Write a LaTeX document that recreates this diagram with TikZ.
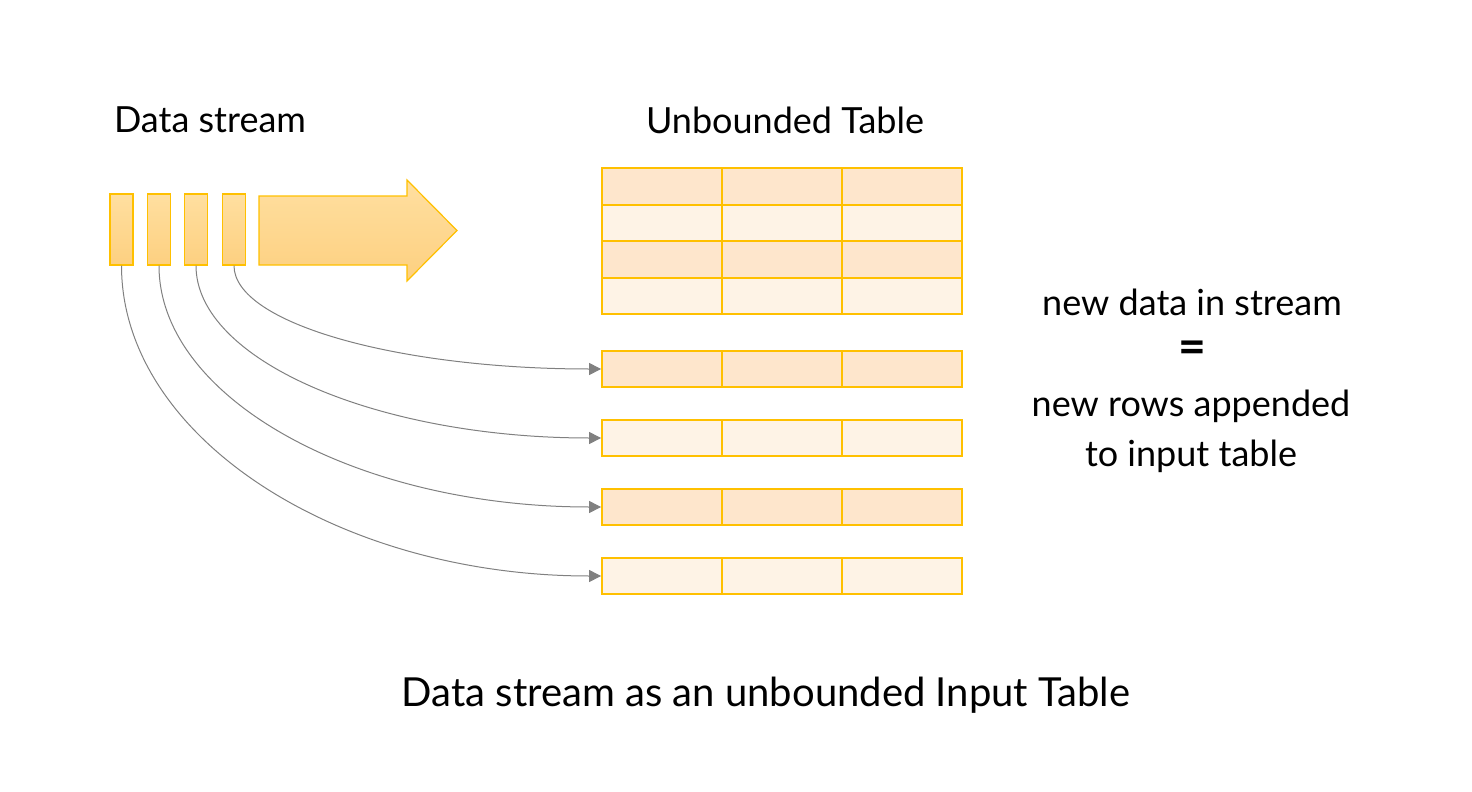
\documentclass[tikz,border=0pt]{standalone}
\usepackage{fontspec}
\setmainfont{Lato}
\usetikzlibrary{arrows.meta,positioning}
\definecolor{goldline}{RGB}{255,192,0}
\definecolor{streamtop}{RGB}{255,223,160}
\definecolor{streambot}{RGB}{253,208,128}
\definecolor{rowdark}{RGB}{254,230,204}
\definecolor{rowlight}{RGB}{254,243,230}
\definecolor{linkgray}{RGB}{128,128,128}

\begin{document}
\begin{tikzpicture}[x=0.5pt,y=-0.5pt,
      packet/.style={draw=goldline,line width=0.6pt,top color=streamtop,
                     bottom color=streambot,minimum width=11.5pt,
                     minimum height=35.5pt,inner sep=0pt},
      cell/.style={draw=goldline,line width=0.9pt,minimum width=60pt,
                   minimum height=18.25pt,inner sep=0pt},
      darkcell/.style={cell,fill=rowdark},
      lightcell/.style={cell,fill=rowlight},
      link/.style={-{Triangle[length=6pt,width=6pt]},linkgray,line width=0.5pt},
      txt/.style={font=\fontsize{18}{23}\selectfont,inner sep=0pt}]
      \useasboundingbox (0,0) rectangle (1472,792);
      % Headings
      \node[txt] (streamlbl) at (210,120) {Data stream};
      \node[txt] (tablelbl)  at (785,120) {Unbounded Table};

      % Stream packets and flow arrow
      \node[packet] (s1) at (121.5,229.5) {};
      \node[packet] (s2) at (159,229.5)   {};
      \node[packet] (s3) at (196,229.5)   {};
      \node[packet] (s4) at (234,229.5)   {};
      \draw[goldline,line width=0.6pt,top color=streamtop,bottom color=streambot]
        (259,196) -- (407,196) -- (407,180) -- (457,230.5) -- (407,281)
        -- (407,265) -- (259,265) -- cycle;

      % Unbounded table
      \foreach \r/\y/\st in {0/186.5/darkcell,1/223/lightcell,2/259.5/darkcell,3/296/lightcell}
        \foreach \c in {0,1,2}
          \node[\st] (t\r-\c) at ({662+120*\c},\y) {};

      % New rows
      \foreach \k/\y/\st in {1/369/darkcell,2/438/lightcell,3/507/darkcell,4/576/lightcell}
        \foreach \c in {0,1,2}
          \node[\st] (r\k-\c) at ({662+120*\c},\y) {};

      \draw[link] (s4.south) .. controls +(0,58)  and +(-202,0) .. (r1-0.west);
      \draw[link] (s3.south) .. controls +(0,95)  and +(-223,0) .. (r2-0.west);
      \draw[link] (s2.south) .. controls +(0,133) and +(-244,0) .. (r3-0.west);
      \draw[link] (s1.south) .. controls +(0,171) and +(-264,0) .. (r4-0.west);

      % Side note
      \node[txt] (newdata) at (1192,302) {new data in stream};
      \node[font=\fontsize{24}{24}\selectfont\bfseries,inner sep=0pt] (eq) at (1192,352) {=};
      \node[txt,align=center] (newrows) at (1191,431) {new rows appended\\[2pt]to input table};

      \node[font=\fontsize{20}{24}\selectfont,inner sep=0pt] (caption) at (766,695)
        {Data stream as an unbounded Input Table};
    \end{tikzpicture}
\end{document}
